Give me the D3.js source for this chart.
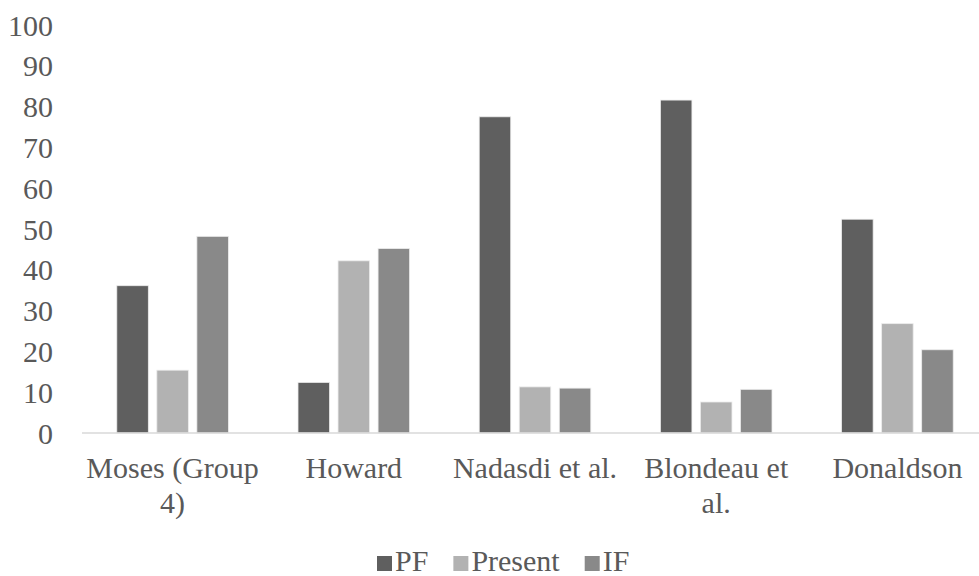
<!DOCTYPE html>
<html>
<head>
<meta charset="utf-8">
<script src="https://cdn.jsdelivr.net/npm/d3@7"></script>
<style>
  body { margin: 0; background: #fff; }
  svg text, svg tspan { font-family: "Liberation Serif", "Times New Roman", Tinos, serif !important; }
</style>
</head>
<body>
<div id="container"></div>
<script>
// data
const categories = ["Moses (Group 4)", "Howard", "Nadasdi et al.", "Blondeau et al.", "Donaldson"];
const categoryLines = [["Moses (Group", "4)"], ["Howard"], ["Nadasdi et al."], ["Blondeau et", "al."], ["Donaldson"]];
const seriesNames = ["PF", "Present", "IF"];
const pfValues = [36.1, 12.4, 77.5, 81.6, 52.4];
const presentValues = [15.4, 42.2, 11.3, 7.6, 26.8];
const ifValues = [48.2, 45.2, 11.0, 10.7, 20.4];
const yTicks = [0, 10, 20, 30, 40, 50, 60, 70, 80, 90, 100];

const colors = ["#5f5f5f", "#b2b2b2", "#898989"];
const seriesValues = [pfValues, presentValues, ifValues];
const fontFamily = "Times New Roman";
const textColor = "#595959";
const fontSize = 30;

// ukuran svg
const width = 979;
const height = 576;
const plotLeft = 82;
const plotRight = 988;
const plotTop = 25;
const plotBottom = 433;

const svg = d3
  .select("#container")
  .append("svg")
  .attr("width", width)
  .attr("height", height);

const x0 = d3.scaleBand().domain(categories).range([plotLeft, plotRight]);
const x1 = d3
  .scaleBand()
  .domain(seriesNames)
  .range([34.8, x0.bandwidth() - 34.8])
  .paddingInner(0.2125);
const yScale = d3.scaleLinear().domain([0, 100]).range([plotBottom, plotTop]);

// label sumbu y
svg
  .append("g")
  .selectAll("text")
  .data(yTicks)
  .enter()
  .append("text")
  .attr("x", 53)
  .attr("y", (d) => yScale(d))
  .attr("dy", "0.35em")
  .attr("text-anchor", "end")
  .style("font-family", fontFamily)
  .attr("fill", textColor)
  .attr("font-size", fontSize)
  .text((d) => d);

// bar
const table = categories.map((c, i) => ({
  cat: c,
  vals: seriesNames.map((s, j) => ({ s, v: seriesValues[j][i], c: colors[j] })),
}));

const groups = svg
  .append("g")
  .selectAll("g")
  .data(table)
  .enter()
  .append("g")
  .attr("transform", (d) => `translate(${x0(d.cat)},0)`);

groups
  .selectAll("rect")
  .data((d) => d.vals)
  .enter()
  .append("rect")
  .attr("x", (d) => x1(d.s))
  .attr("y", (d) => yScale(d.v))
  .attr("width", x1.bandwidth())
  .attr("height", (d) => yScale(0) - yScale(d.v))
  .attr("fill", (d) => d.c)
  .attr("stroke", "#ececec")
  .attr("stroke-width", 0.8);

// garis dasar
svg
  .append("line")
  .attr("x1", plotLeft)
  .attr("x2", plotRight)
  .attr("y1", yScale(0))
  .attr("y2", yScale(0))
  .attr("stroke", "#d9d9d9")
  .attr("stroke-width", 1.3);

// label kategori
const catLabels = svg
  .append("g")
  .selectAll("text")
  .data(categories)
  .enter()
  .append("text")
  .attr("text-anchor", "middle")
  .style("font-family", fontFamily)
  .attr("fill", textColor)
  .attr("font-size", fontSize)
  .attr("transform", (d) => `translate(${x0(d) + x0.bandwidth() / 2},478)`);

catLabels
  .selectAll("tspan")
  .data((d, i) => categoryLines[i])
  .enter()
  .append("tspan")
  .attr("x", 0)
  .attr("y", (d, i) => i * 35)
  .text((d) => d);

// legenda
const legend = svg.append("g").attr("transform", "translate(377,571)");
let lx = 0;
seriesNames.forEach((s, i) => {
  legend
    .append("rect")
    .attr("x", lx)
    .attr("y", -15)
    .attr("width", 15)
    .attr("height", 15)
    .attr("fill", colors[i]);
  const t = legend
    .append("text")
    .attr("x", lx + 18)
    .attr("y", 0)
    .style("font-family", fontFamily)
    .attr("fill", textColor)
    .attr("font-size", fontSize)
    .text(s);
  lx += 18 + t.node().getComputedTextLength() + 25;
});
</script>
</body>
</html>
